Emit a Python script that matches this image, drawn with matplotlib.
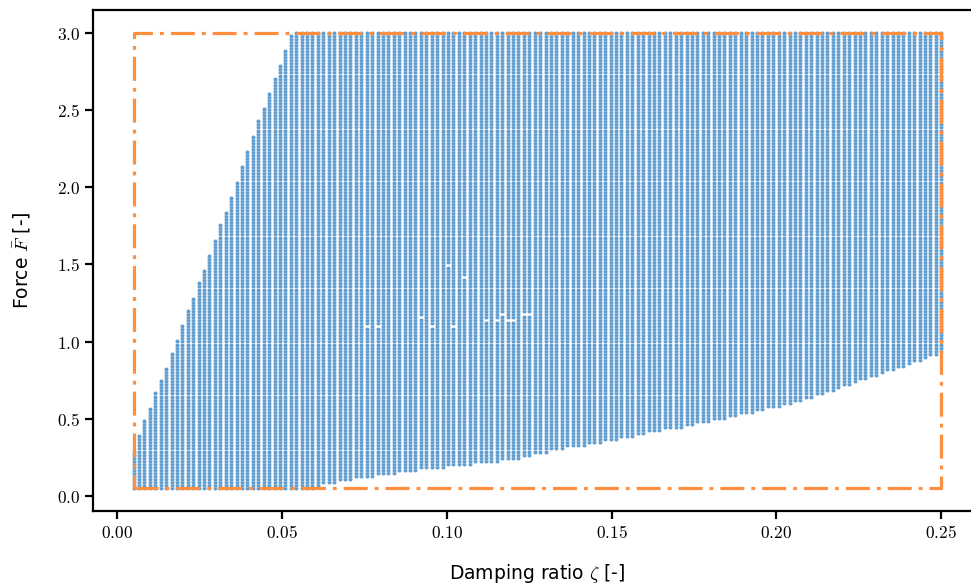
import numpy as np
import matplotlib
matplotlib.use("Agg")
import matplotlib.pyplot as plt
from matplotlib.ticker import FuncFormatter

plt.rcParams['mathtext.fontset'] = 'cm'
plt.rcParams['font.family'] = ['DejaVu Sans']

# parameter sweep grid (damping ratio x force)
zeta = np.linspace(0.005, 0.25, 150)
force = np.linspace(0.05, 3.0, 150)

# highest force reached in the first columns, the rest go up to 3.0
upper_first = [0.28, 0.38, 0.48, 0.56, 0.66, 0.75, 0.83, 0.92, 1.01, 1.10,
               1.19, 1.28, 1.37, 1.46, 1.56, 1.65, 1.75, 1.84, 1.94, 2.03,
               2.13, 2.22, 2.32, 2.42, 2.50, 2.60, 2.70, 2.78, 2.88, 2.98]
upper = upper_first + [3.0] * (len(zeta) - len(upper_first))

# lowest force per column
lower = [0.05] * 34 + [
    0.06, 0.07, 0.07, 0.08, 0.09, 0.09, 0.10, 0.11, 0.11, 0.12,
    0.12, 0.13, 0.13, 0.14, 0.14, 0.15, 0.15, 0.16, 0.16, 0.17,
    0.17, 0.17, 0.18, 0.18, 0.19, 0.19, 0.19, 0.20, 0.20, 0.21,
    0.21, 0.21, 0.22, 0.22, 0.23, 0.23, 0.24, 0.24, 0.25, 0.26,
    0.27, 0.27, 0.28, 0.29, 0.29, 0.30, 0.31, 0.31, 0.32, 0.32,
    0.33, 0.34, 0.34, 0.35, 0.36, 0.36, 0.37, 0.38, 0.38, 0.39,
    0.40, 0.41, 0.41, 0.42, 0.43, 0.43, 0.44, 0.44, 0.45, 0.46,
    0.47, 0.47, 0.48, 0.49, 0.50, 0.50, 0.51, 0.52, 0.53, 0.53,
    0.54, 0.55, 0.56, 0.57, 0.57, 0.58, 0.59, 0.60, 0.61, 0.62,
    0.63, 0.64, 0.65, 0.66, 0.67, 0.68, 0.70, 0.71, 0.72, 0.73,
    0.75, 0.76, 0.77, 0.78, 0.79, 0.81, 0.82, 0.83, 0.84, 0.86,
    0.87, 0.88, 0.89, 0.91, 0.92, 0.93]

# points that did not converge (white gaps)
missing_zeta = [0.0753, 0.0788, 0.0920, 0.0952, 0.1002, 0.1019, 0.1053,
                0.1120, 0.1152, 0.1167, 0.1187, 0.1201, 0.1238, 0.1251]
missing_force = [1.10, 1.10, 1.162, 1.10, 1.50, 1.10, 1.42,
                 1.145, 1.145, 1.184, 1.145, 1.145, 1.184, 1.184]

# bounding box of the sweep
box_zeta = [0.005, 0.25, 0.25, 0.005, 0.005]
box_force = [0.05, 0.05, 3.0, 3.0, 0.05]

skip = set()
for z, f in zip(missing_zeta, missing_force):
    skip.add((int(np.argmin(abs(zeta - z))), int(np.argmin(abs(force - f)))))

xs, ys = [], []
for i, z in enumerate(zeta):
    for j, f in enumerate(force):
        if lower[i] - 1e-9 <= f <= upper[i] + 0.01 and (i, j) not in skip:
            xs.append(z)
            ys.append(f)

fig = plt.figure(figsize=(9.71, 5.84), dpi=100)
# right spine sits just outside the picture, as in the original
ax = fig.add_axes([0.096, 0.125, 0.915, 0.858])

ax.scatter(xs, ys, s=9, marker='o', color='#5f9dd0', edgecolors='white',
           linewidths=0.15, zorder=2)
ax.plot(box_zeta, box_force, color='#ff8f3f', lw=2.3, ls=(0, (7.5, 2.2, 1.2, 2.2)),
        zorder=3)

ax.set_xticks([0.0, 0.05, 0.10, 0.15, 0.20, 0.25])
ax.set_yticks([0.0, 0.5, 1.0, 1.5, 2.0, 2.5, 3.0])
ax.xaxis.set_major_formatter(FuncFormatter(lambda v, p: r'$%.2f$' % v))
ax.yaxis.set_major_formatter(FuncFormatter(lambda v, p: r'$%.1f$' % v))
ax.tick_params(labelsize=12.5, length=6, width=1.6)
for s in ax.spines.values():
    s.set_linewidth(1.6)

ax.set_xlabel(r'Damping ratio $\zeta$ [-]', fontsize=13.5, labelpad=14)
ax.set_ylabel(r'Force $\bar{F}$ [-]', fontsize=13.5, labelpad=18)

fig.savefig('out.png', dpi=100)
